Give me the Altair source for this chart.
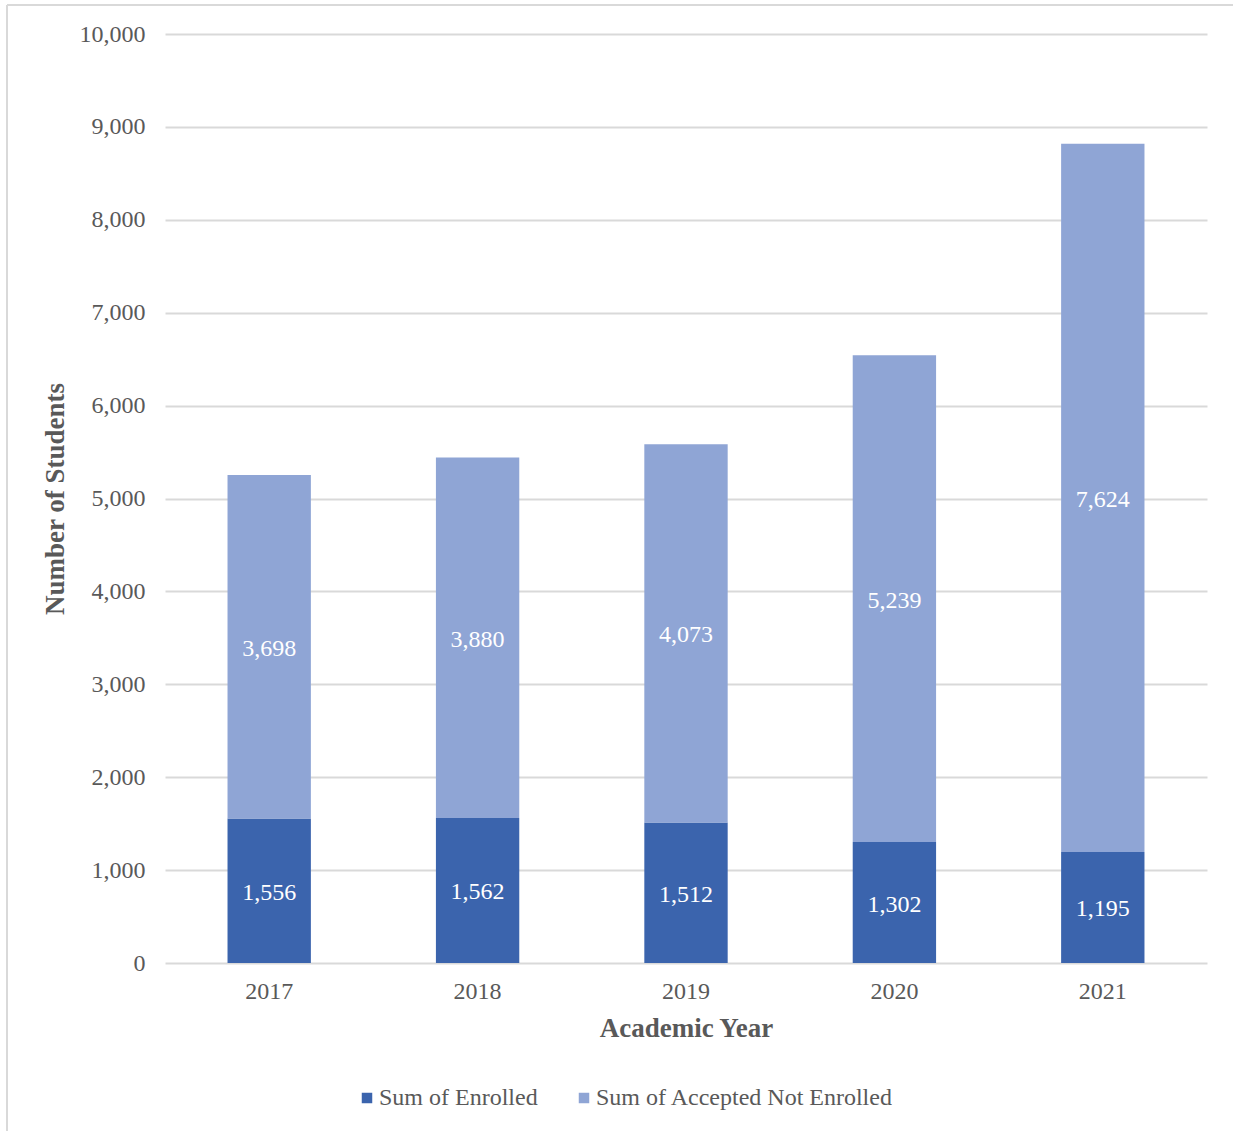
import altair as alt
import pandas as pd

years = ["2017", "2018", "2019", "2020", "2021"]
enrolled = [1556, 1562, 1512, 1302, 1195]
accepted_not_enrolled = [3698, 3880, 4073, 5239, 7624]
series_names = ["Sum of Enrolled", "Sum of Accepted Not Enrolled"]
colors = ["#3B64AD", "#8FA5D5"]
y_ticks = list(range(0, 10001, 1000))

rows = []
for i, y in enumerate(years):
    rows.append({"year": y, "series": series_names[0], "value": enrolled[i], "ord": 0})
    rows.append({"year": y, "series": series_names[1], "value": accepted_not_enrolled[i], "ord": 1})
df = pd.DataFrame(rows)

FONT = "Liberation Serif"
W, H = 1042, 929

base = alt.Chart(df).transform_stack(
    stack="value", groupby=["year"], as_=["y0", "y1"],
    sort=[alt.SortField("ord", order="ascending")]
).transform_calculate(mid="(datum.y0 + datum.y1) / 2")

xenc = alt.X("year:N", sort=years,
             scale=alt.Scale(paddingInner=0.6, paddingOuter=0.3),
             axis=alt.Axis(title="Academic Year", labelAngle=0, labelFontSize=24,
                           labelColor="#595959", labelFont=FONT, labelPadding=16,
                           titleFont=FONT, titleFontSize=27, titleColor="#595959",
                           titleFontWeight="bold", titlePadding=12,
                           ticks=False, domain=False))

yscale = alt.Scale(domain=[0, 10000], nice=False)

bars = base.mark_bar().encode(
    x=xenc,
    y=alt.Y("y0:Q", scale=yscale,
            axis=alt.Axis(title="Number of Students", values=y_ticks, format=",d",
                          labelFontSize=24, labelColor="#595959", labelFont=FONT,
                          labelPadding=20, titleFont=FONT, titleFontSize=27,
                          titleColor="#595959", titleFontWeight="bold",
                          titlePadding=10, ticks=False, domain=False,
                          grid=True, gridColor="#D9D9D9", gridWidth=2)),
    y2="y1:Q",
    color=alt.Color("series:N", sort=series_names,
                    scale=alt.Scale(domain=series_names, range=colors),
                    legend=alt.Legend(title=None, orient="none", direction="horizontal",
                                      legendX=190, legendY=1052,
                                      symbolType="square", symbolSize=110,
                                      symbolStrokeWidth=0, labelFont=FONT,
                                      labelFontSize=24, labelColor="#595959",
                                      labelOffset=0, columnPadding=34,
                                      labelLimit=600)),
)

labels = base.mark_text(color="white", font=FONT, fontSize=24, baseline="middle", dy=2).encode(
    x=alt.X("year:N", sort=years),
    y=alt.Y("mid:Q", scale=yscale),
    text=alt.Text("value:Q", format=",d"),
)

border = alt.Chart(pd.DataFrame({"k": [0]})).mark_rule(color="#D9D9D9", strokeWidth=2)
top_border = border.encode(x=alt.value(-158), x2=alt.value(1200), y=alt.value(-29))
left_border = border.encode(x=alt.value(-158), y=alt.value(-29), y2=alt.value(1200))

chart = alt.layer(bars, labels, top_border, left_border).properties(
    width=W, height=H,
    autosize=alt.AutoSizeParams(type="none"),
    padding={"left": 165, "top": 34, "right": 26, "bottom": 168},
    background="white",
).configure_view(stroke=None)

chart.save("out.html", embed_options={"renderer": "svg", "actions": False})
